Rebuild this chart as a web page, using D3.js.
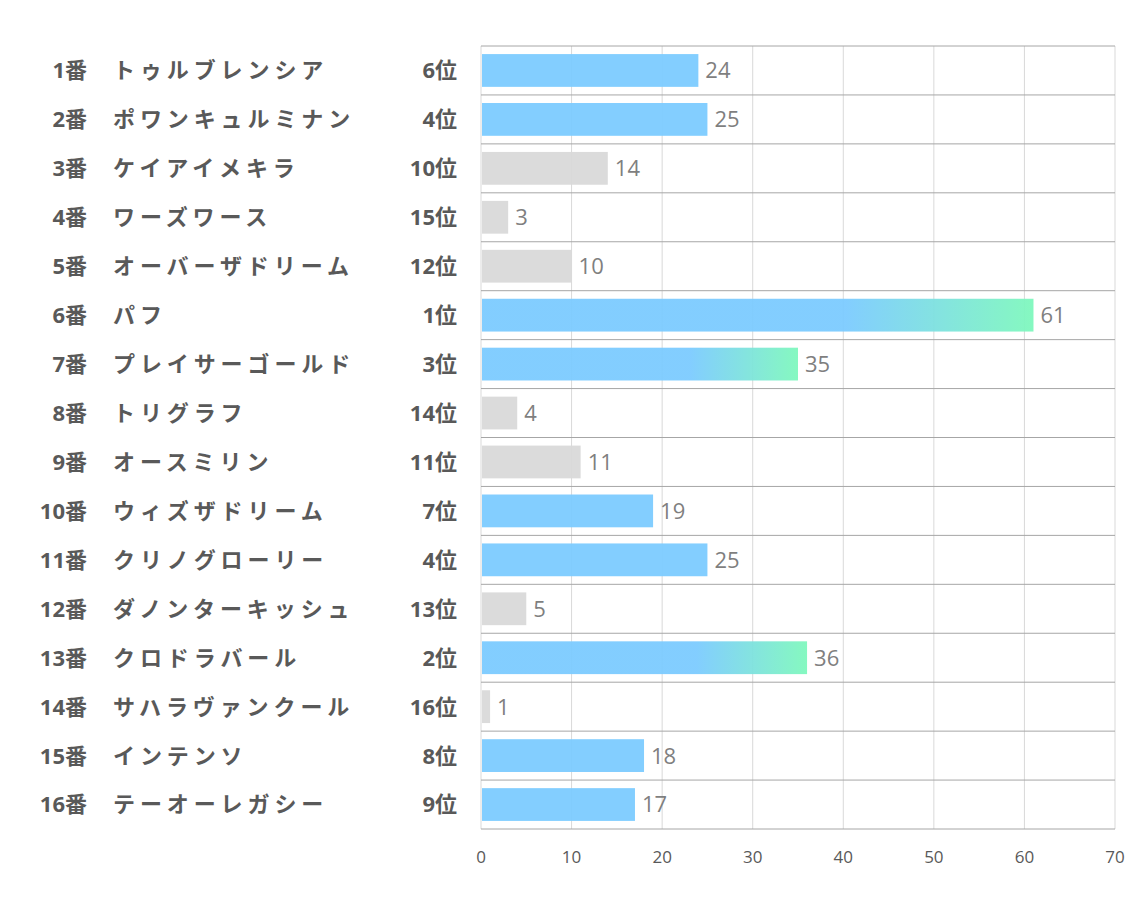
<!DOCTYPE html>
<html><head><meta charset="utf-8">
<script src="https://cdn.jsdelivr.net/npm/d3@7"></script>
<style>body{margin:0;background:#fff}</style>
</head><body><svg id="c" width="1134" height="907"></svg>
<script>
const nums = ["1番","2番","3番","4番","5番","6番","7番","8番","9番","10番","11番","12番","13番","14番","15番","16番"];
const names = ["トゥルブレンシア","ポワンキュルミナン","ケイアイメキラ","ワーズワース","オーバーザドリーム","パフ","プレイサーゴールド","トリグラフ","オースミリン","ウィズザドリーム","クリノグローリー","ダノンターキッシュ","クロドラバール","サハラヴァンクール","インテンソ","テーオーレガシー"];
const ranks = [6,4,10,15,12,1,3,14,11,7,4,13,2,16,8,9];
const values = [24,25,14,3,10,61,35,4,11,19,25,5,36,1,18,17];
const ticks = [0,10,20,30,40,50,60,70];

const svg = d3.select("#c");
const pL = 481, pR = 1115, pT = 46, pB = 829;
const x = d3.scaleLinear().domain([0,70]).range([pL,pR]);
const y = d3.scaleBand().domain(d3.range(16)).range([pT,pB]).paddingInner(0.33).paddingOuter(0.165);
const rowH = (pB-pT)/16;
const font = "'Noto Sans CJK JP','Noto Sans',sans-serif";
const dfont = "'Open Sans','Noto Sans CJK JP',sans-serif";

const defs = svg.append("defs");
const g = defs.append("linearGradient").attr("id","grad").attr("x1","0").attr("x2","1").attr("y1","0").attr("y2","0");
g.append("stop").attr("offset","0.66").attr("stop-color","#7ccbff");
g.append("stop").attr("offset","1").attr("stop-color","#7ff8bd");

svg.append("g").selectAll("line").data(ticks).join("line")
  .attr("x1",d=>x(d)).attr("x2",d=>x(d)).attr("y1",pT).attr("y2",pB)
  .attr("stroke","#d9d9d9").attr("stroke-width",1);
svg.append("g").selectAll("line").data(d3.range(17)).join("line")
  .attr("x1",pL).attr("x2",pR).attr("y1",d=>pT+d*rowH).attr("y2",d=>pT+d*rowH)
  .attr("stroke","#a6a6a6").attr("stroke-width",1);

svg.append("g").selectAll("rect").data(values).join("rect")
  .attr("x",x(0)+1).attr("y",(d,i)=>y(i)).attr("height",y.bandwidth())
  .attr("width",d=>x(d)-x(0)-1)
  .attr("fill",(d,i)=>ranks[i]<=3?"url(#grad)":(ranks[i]<=9?"#7ccbff":"#d9d9d9"))
  .attr("opacity",0.95);

svg.append("g").selectAll("text").data(values).join("text")
  .attr("x",d=>x(d)+7).attr("y",(d,i)=>y(i)+y.bandwidth()/2)
  .attr("dy","0.36em").attr("font-family",dfont).attr("font-size",22)
  .attr("fill","#7f7f7f").text(d=>d);

const lab = svg.append("g").attr("font-family",font).attr("font-weight","bold").attr("font-size",22).attr("fill","#595959");
lab.selectAll(".num").data(nums).join("text").attr("class","num")
  .attr("x",87).attr("y",(d,i)=>y(i)+y.bandwidth()/2).attr("dy","0.36em")
  .attr("font-family",dfont).attr("text-anchor","end").text(d=>d);
lab.selectAll(".name").data(names).join("text").attr("class","name")
  .attr("x",113).attr("y",(d,i)=>y(i)+y.bandwidth()/2).attr("dy","0.36em")
  .attr("letter-spacing","4.9px").text(d=>d);
lab.selectAll(".rank").data(ranks).join("text").attr("class","rank")
  .attr("x",457).attr("y",(d,i)=>y(i)+y.bandwidth()/2).attr("dy","0.36em")
  .attr("font-family",dfont).attr("text-anchor","end").text(d=>d+"位");

svg.append("g").selectAll("text").data(ticks).join("text")
  .attr("x",d=>x(d)).attr("y",857).attr("dy","0.36em").attr("text-anchor","middle")
  .attr("font-family",dfont).attr("font-size",17).attr("fill","#595959").text(d=>d);
</script></body></html>
